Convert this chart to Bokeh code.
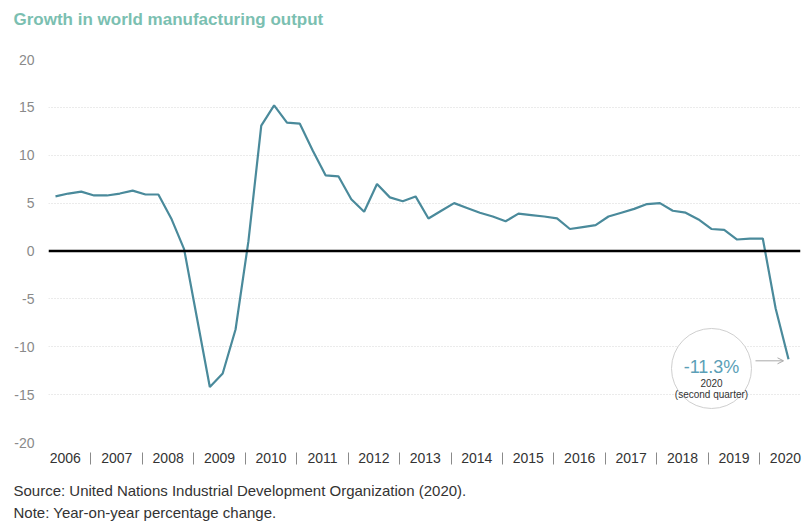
from bokeh.plotting import figure
from bokeh.models import (FixedTicker, Span, Label, Arrow, OpenHead, Range1d,
                          CustomJSTickFormatter, Title)
from bokeh.embed import file_html
from bokeh.resources import INLINE

# Year-on-year growth of world manufacturing output, quarterly, 2006Q1-2020Q2
years = list(range(2006, 2021))
quarters = [(y, q) for y in years for q in range(1, 5)][:58]
growth = [5.7, 6.0, 6.2, 5.8, 5.8, 6.0, 6.3, 5.9, 5.9, 3.4,
          0.2, -7.0, -14.2, -12.8, -8.2, 1.0, 13.1, 15.2, 13.4, 13.3,
          10.5, 7.9, 7.8, 5.4, 4.1, 7.0, 5.6, 5.2, 5.7, 3.4,
          4.2, 5.0, 4.5, 4.0, 3.6, 3.1, 3.9, 3.75, 3.6, 3.4,
          2.3, 2.5, 2.7, 3.6, 4.0, 4.4, 4.9, 5.0, 4.2, 4.0,
          3.3, 2.3, 2.2, 1.2, 1.3, 1.3, -6.0, -11.3]
y_ticks = [-20, -15, -10, -5, 0, 5, 10, 15, 20]

x = [y + (q - 1) / 4 for (y, q) in quarters]

FONT = "Liberation Sans"
LINE_COLOR = "#4a8a9b"
TITLE_COLOR = "#7bbfb1"
TEXT_COLOR = "#333333"

p = figure(width=809, height=522, output_backend="svg", toolbar_location=None,
           x_range=Range1d(2005.864, 2020.483), y_range=Range1d(-20, 20),
           min_border_left=48, min_border_right=9, min_border_top=59,
           min_border_bottom=80)
p.outline_line_color = None
p.title.visible = False


def spacer(height):
    """An empty title row that only reserves vertical space."""
    return Title(text=" ", text_font_size="1px", standoff=height)


# title: a gap next to the frame, then the heading further out
p.add_layout(spacer(28), "above")
p.add_layout(Title(text="Growth in world manufacturing output", align="left",
                   offset=-35, standoff=0, text_font=FONT,
                   text_font_style="bold", text_font_size="17px",
                   text_color=TITLE_COLOR), "above")

# x axis: year labels with thin separators between them
xax = p.xaxis[0]
xax.ticker = FixedTicker(ticks=[round(y + 0.19, 2) for y in years],
                         minor_ticks=[round(y + 0.69, 2) for y in years[:-1]])
xax.formatter = CustomJSTickFormatter(code="return String(Math.floor(tick))")
xax.axis_line_color = None
xax.major_tick_line_color = None
xax.major_tick_in = 0
xax.major_tick_out = 0
xax.minor_tick_in = -10
xax.minor_tick_out = 22
xax.minor_tick_line_color = "#8a8a8a"
xax.minor_tick_line_width = 1
xax.major_label_standoff = -12
xax.major_label_text_font = FONT
xax.major_label_text_font_size = "14px"
xax.major_label_text_color = TEXT_COLOR

yax = p.yaxis[0]
yax.ticker = FixedTicker(ticks=y_ticks)
yax.formatter = CustomJSTickFormatter(code="return tick.toFixed(0)")
yax.axis_line_color = None
yax.major_tick_line_color = None
yax.minor_tick_line_color = None
yax.major_tick_in = 0
yax.major_tick_out = 0
yax.major_label_standoff = 14
yax.major_label_text_font = FONT
yax.major_label_text_font_size = "14px"
yax.major_label_text_color = "#8a8a8a"

p.xgrid.visible = False
p.ygrid.ticker = FixedTicker(ticks=y_ticks)
p.ygrid.grid_line_color = "#d6d6d6"
p.ygrid.grid_line_dash = "1 2"
p.ygrid.grid_line_width = 1

p.add_layout(Span(location=0, dimension="width", line_color="black",
                  line_width=2.5))

p.line(x, growth, line_color=LINE_COLOR, line_width=2.2)

# callout for the latest quarter
cx, cy = 2018.753, -12.27
p.scatter([cx], [cy], marker="circle", size=80, fill_color="white",
          line_color="#cfcfcf", line_width=1)
p.add_layout(Label(x=cx, y=cy, y_offset=1, text=f"{growth[-1]:.1f}%",
                   text_align="center", text_baseline="alphabetic",
                   text_font=FONT, text_font_size="18px",
                   text_color="#5b9fb7"))
p.add_layout(Label(x=cx, y=cy, y_offset=-15, text=str(quarters[-1][0]),
                   text_align="center", text_baseline="alphabetic",
                   text_font=FONT, text_font_size="10px",
                   text_color=TEXT_COLOR))
p.add_layout(Label(x=cx, y=cy, y_offset=-26, text="(second quarter)",
                   text_align="center", text_baseline="alphabetic",
                   text_font=FONT, text_font_size="10px",
                   text_color=TEXT_COLOR))
p.add_layout(Arrow(end=OpenHead(size=6, line_color="#aaaaaa", line_width=1),
                   x_start=2019.608, y_start=growth[-1] - 0.17,
                   x_end=2020.153, y_end=growth[-1] - 0.17,
                   line_color="#aaaaaa", line_width=1))

# footnotes below the axis
p.add_layout(spacer(10), "below")
notes = ["Source: United Nations Industrial Development Organization (2020).",
         "Note: Year-on-year percentage change."]
for note in notes:
    p.add_layout(Title(text=note, align="left", offset=-35, standoff=3,
                       text_font=FONT, text_font_style="normal",
                       text_font_size="15px", text_color=TEXT_COLOR), "below")

open("out.html", "w").write(file_html(p, INLINE))
